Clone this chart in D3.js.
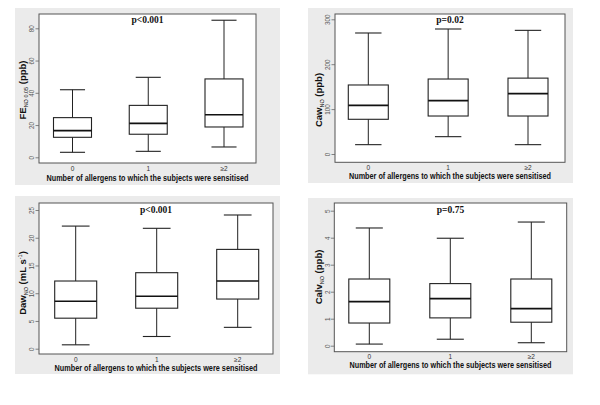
<!DOCTYPE html>
<html><head><meta charset="utf-8">
<script src="https://cdn.jsdelivr.net/npm/d3@7"></script>
<style>body{margin:0;background:#fff}svg{display:block}</style>
</head><body>
<script>
const categories = ["0", "1", "\u22652"];
// each: [lower whisker, Q1, median, Q3, upper whisker]
const feno = [[3.1,12.4,16.5,24.6,41.9],[3.7,14.3,21.1,32.2,49.6],[6.4,18.8,26.4,48.6,85]];
const caw  = [[20.8,77.3,108.5,153.7,269.5],[38.6,84.6,118.8,167,278.4],[20.8,84.6,134.3,169,275.4]];
const daw  = [[0.7,5.5,8.55,12.2,22.1],[2.2,7.3,9.45,13.7,21.7],[3.85,8.95,12.2,17.9,24.1]];
const calv = [[0.06,0.84,1.63,2.47,4.36],[0.24,1.03,1.74,2.3,3.98],[0.11,0.87,1.37,2.47,4.58]];
const ticks1 = [0,20,40,60,80], ticks2=[0,100,200,300], ticks3=[0,5,10,15,20,25], ticks4=[0,1,2,3,4,5];
const pvals = ["p<0.001","p=0.02","p<0.001","p=0.75"];
const xTitle = "Number of allergens to which the subjects were sensitised";

const panels = [
 {data:feno, ticks:ticks1, dom:[0,80], p:pvals[0], lab:[["FE",""],["NO 0.05","sub"],[" (ppb)",""]],
  bg:[15,8,280,185], plot:[39,14,256,163], yr:[157.3,28.3], xr:[72.5,224], bw:38, ylx:25.5, tlx:34, py:23, xty:171, xtt:181, yc:90, xw:202},
 {data:caw, ticks:ticks2, dom:[0,300], p:pvals[1], lab:[["Caw",""],["NO","sub"],[" (ppb)",""]],
  bg:[308,8,573,183], plot:[335,14,565,162.3], yr:[154,19.3], xr:[368.3,528], bw:40, ylx:321.5, tlx:330, py:23, xty:169.5, xtt:178.5, yc:100, xw:202},
 {data:daw, ticks:ticks3, dom:[0,25], p:pvals[2], lab:[["Daw",""],["NO","sub"],[" (mL s",""],["-1","sup"],[")",""]],
  bg:[15,196,280,374], plot:[39,203,273,354], yr:[348.7,210], xr:[75.7,237.7], bw:42, ylx:25.5, tlx:34, py:213, xty:362, xtt:371, yc:283, xw:203},
 {data:calv, ticks:ticks4, dom:[0,5], p:pvals[3], lab:[["Calv",""],["NO","sub"],[" (ppb)",""]],
  bg:[308,198,573,374.3], plot:[334.3,203,566.7,351.7], yr:[345.7,210.7], xr:[369.3,531.3], bw:41, ylx:321.5, tlx:329.5, py:213, xty:358.5, xtt:368, yc:277, xw:202}
];

const svg = d3.select("body").append("svg").attr("width",600).attr("height",405);
const boxCol = "#222";

panels.forEach(P => {
  const g = svg.append("g");
  const [bx0,by0,bx1,by1] = P.bg;
  g.append("rect").attr("x",bx0).attr("y",by0).attr("width",bx1-bx0).attr("height",by1-by0).attr("fill","#ebebeb");
  const [px0,py0,px1,py1] = P.plot;
  g.append("rect").attr("x",px0).attr("y",py0).attr("width",px1-px0).attr("height",py1-py0)
   .attr("fill","#fff").attr("stroke","#555").attr("stroke-width",1);
  const y = d3.scaleLinear().domain(P.dom).range(P.yr);
  const x = d3.scalePoint().domain(categories).range(P.xr);
  const ax = g.append("g").attr("transform",`translate(${px0},0)`)
    .call(d3.axisLeft(y).tickValues(P.ticks).tickSize(3.5).tickSizeOuter(0).tickFormat(d3.format("d")));
  ax.select(".domain").remove();
  ax.selectAll(".tick line").attr("stroke","#666").attr("stroke-width",0.8);
  ax.selectAll(".tick text").remove();
  ax.selectAll(".tick").append("text")
    .attr("transform",`translate(${P.tlx-px0},0) rotate(-90)`)
    .attr("text-anchor","middle").attr("fill","#555")
    .style("font-family","Liberation Sans, Arial, sans-serif").style("font-size","6.3px")
    .text(d=>d);
  g.selectAll(".xt").data(categories).enter().append("text")
    .attr("x",d=>x(d)).attr("y",P.xty).attr("text-anchor","middle").attr("fill","#333")
    .style("font-family","Liberation Sans, Arial, sans-serif").style("font-size","6.5px").text(d=>d);
  g.append("text").attr("x",(px0+px1)/2).attr("y",P.xtt).attr("text-anchor","middle")
    .attr("fill","#111").style("font-family","Liberation Sans, Arial, sans-serif")
    .attr("textLength",P.xw).attr("lengthAdjust","spacingAndGlyphs")
    .style("font-size","8.3px").style("font-weight","bold").text(xTitle);
  const yt = g.append("text").attr("transform",`translate(${P.ylx},${P.yc}) rotate(-90)`)
    .attr("text-anchor","middle").attr("fill","#111")
    .style("font-family","Liberation Sans, Arial, sans-serif").style("font-size","9.5px").style("font-weight","bold");
  let shift=0;
  P.lab.forEach(([t,k])=>{
    const ts = yt.append("tspan").text(t);
    if(k) ts.style("font-size","5.5px").style("font-weight","normal");
    const want = k==="sub"?2:(k==="sup"?-4:0);
    ts.attr("dy", want-shift); shift=want;
  });
  g.append("text").attr("x",(px0+px1)/2).attr("y",P.py).attr("text-anchor","middle")
    .style("font-family","Liberation Serif, Times New Roman, serif").style("font-size","9.5px")
    .style("font-weight","bold").attr("fill","#111").text(P.p);
  const bw = P.bw, cw = bw*0.66;
  P.data.forEach((s,i)=>{
    const cx = x(categories[i]);
    const [lo,q1,md,q3,hi] = s;
    const bb = g.append("g").attr("stroke",boxCol).attr("fill","none");
    bb.append("line").attr("x1",cx).attr("x2",cx).attr("y1",y(hi)).attr("y2",y(q3)).attr("stroke-width",1);
    bb.append("line").attr("x1",cx).attr("x2",cx).attr("y1",y(q1)).attr("y2",y(lo)).attr("stroke-width",1);
    bb.append("line").attr("x1",cx-cw/2).attr("x2",cx+cw/2).attr("y1",y(hi)).attr("y2",y(hi)).attr("stroke-width",1.1);
    bb.append("line").attr("x1",cx-cw/2).attr("x2",cx+cw/2).attr("y1",y(lo)).attr("y2",y(lo)).attr("stroke-width",1.1);
    bb.append("rect").attr("x",cx-bw/2).attr("y",y(q3)).attr("width",bw).attr("height",y(q1)-y(q3)).attr("stroke-width",1.1);
    bb.append("line").attr("x1",cx-bw/2).attr("x2",cx+bw/2).attr("y1",y(md)).attr("y2",y(md)).attr("stroke-width",1.7).attr("stroke","#111");
  });
});
</script>
</body></html>
